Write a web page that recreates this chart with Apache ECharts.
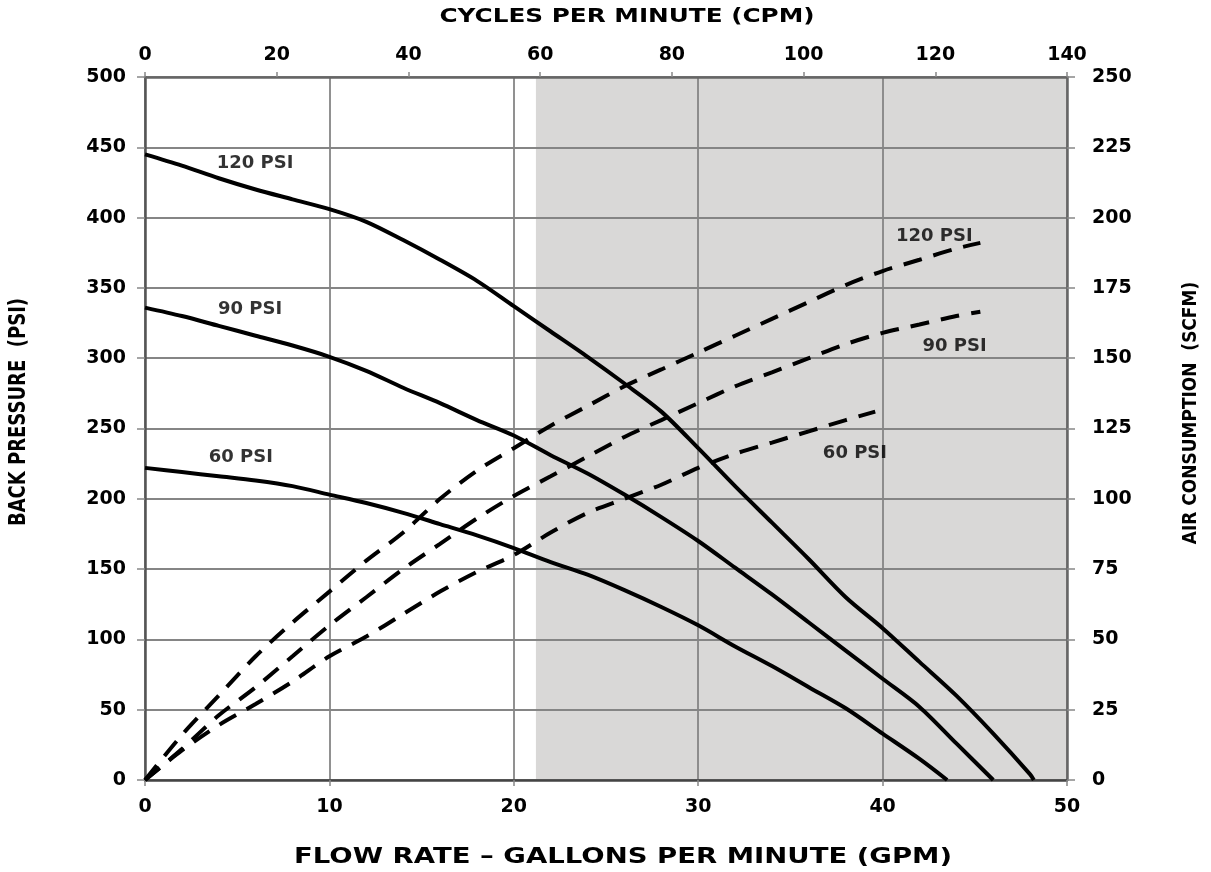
<!DOCTYPE html>
<html><head><meta charset="utf-8">
<script src="https://cdn.jsdelivr.net/npm/echarts@6/dist/echarts.min.js"></script>
<style>html,body{margin:0;padding:0;background:#fff}#c{width:1211px;height:872px}</style>
</head><body><div id="c"></div>
<script>
// Performance curves: flow rate (GPM) vs back pressure (PSI)
const gpmP120 = [0,2,4,6,8,10,12,14,16,18,20,22,24,26,28,30,32,34,36,38,40,42,44,46,48,48.2];
const psiP120 = [445,437,428,420,413,406,397,384,370,355,337,319,301,282,262,236,209,183,157,130,108,84,60,33,4,0];
const gpmP90 = [0,2,4,6,8,10,12,14,16,18,20,22,24,26,28,30,32,34,36,38,40,42,44,46];
const psiP90 = [336,330,323,316,309,301,291,279,268,256,245,231,218,203,187,170,151,132,112,92,72,52,26,0];
const gpmP60 = [0,2,4,6,8,10,12,14,16,18,20,22,24,26,28,30,32,34,36,38,40,42,43.5];
const psiP60 = [222,219,216,213,209,203,197,190,182,174,165,155,146,135,123,110,95,81,66,51,33,15,0];
// Air consumption curves: flow rate (GPM) vs SCFM
const gpmA120 = [0,2,4,6,8,10,12,14,16,18,20,22,24,26,28,30,32,34,36,38,40,42,44,45.3];
const scfmA120 = [0,16,30,44,56,67,78,88,100,110,118,126,133,140,146,152,158,164,170,176,181,185,189,191];
const gpmA90 = [0,2,4,6,8,10,12,14,16,18,20,22,24,26,28,30,32,34,36,38,40,42,44,45.3];
const scfmA90 = [0,11,23,33,44,55,65,75,84,93,101,108,115,122,128,134,140,145,150,155,159,162,165,166.5];
const gpmA60 = [0,2,4,6,8,10,12,14,16,18,20,22,24,26,28,30,32,34,36,38,39.6];
const scfmA60 = [0,10.5,19.5,27,35,44,51,59,67,74,80,88,95,100,105,111,116,120,124,128,131];
// Shaded region (GPM)
const shadeRange = [21.2, 50];
// Curve labels: [gpm, psi, text]
const curveLabels = [
  [5.97, 438.8, '120 PSI'], [5.7, 335, '90 PSI'], [5.2, 229.7, '60 PSI'],
  [42.8, 387, '120 PSI'], [43.9, 308.7, '90 PSI'], [38.5, 232.6, '60 PSI']
];
const xTitle = 'FLOW RATE – GALLONS PER MINUTE (GPM)';
const x2Title = 'CYCLES PER MINUTE (CPM)';
const yTitle = 'BACK PRESSURE  (PSI)';
const y2Title = 'AIR CONSUMPTION  (SCFM)';

const zip = (a, b) => a.map((v, i) => [v, b[i]]);
const FONT = '"DejaVu Sans", sans-serif';
const lbl = {fontFamily: FONT, fontWeight: 'bold', fontSize: 19, color: '#000'};

const chart = echarts.init(document.getElementById('c'));
const solid = {type: 'line', smooth: 0.3, showSymbol: false, symbol: 'none', lineStyle: {color: '#000', width: 4}, z: 3};
const dashed = {type: 'line', smooth: 0.3, showSymbol: false, symbol: 'none', yAxisIndex: 1, lineStyle: {color: '#000', width: 4, type: [19, 12]}, z: 3};
chart.setOption({
  animation: false,
  grid: {left: 145, right: 144, top: 77, bottom: 92},
  xAxis: [{
    type: 'value', min: 0, max: 50, interval: 10, position: 'bottom',
    axisLine: {show: true, onZero: false, lineStyle: {color: '#444', width: 2.5}},
    axisTick: {show: true, length: 6, lineStyle: {color: '#888', width: 1.5}},
    axisLabel: Object.assign({}, lbl, {margin: 18}),
    splitLine: {show: true, lineStyle: {color: '#858585', width: 1.8}}
  }, {
    type: 'value', min: 0, max: 140, interval: 20, position: 'top',
    axisLine: {show: true, onZero: false, lineStyle: {color: '#666', width: 2.5}},
    axisTick: {show: true, length: 5, lineStyle: {color: '#888', width: 1.5}},
    axisLabel: Object.assign({}, lbl, {margin: 12}),
    splitLine: {show: false}
  }],
  yAxis: [{
    type: 'value', min: 0, max: 500, interval: 50, position: 'left',
    axisLine: {show: true, onZero: false, lineStyle: {color: '#555', width: 2.5}},
    axisTick: {show: true, length: 8, lineStyle: {color: '#888', width: 1.5}},
    axisLabel: Object.assign({}, lbl, {margin: 19}),
    splitLine: {show: true, lineStyle: {color: '#858585', width: 1.8}}
  }, {
    type: 'value', min: 0, max: 250, interval: 25, position: 'right',
    axisLine: {show: true, onZero: false, lineStyle: {color: '#666', width: 2.5}},
    axisTick: {show: true, length: 8, lineStyle: {color: '#888', width: 1.5}},
    axisLabel: Object.assign({}, lbl, {margin: 25}),
    splitLine: {show: false}
  }],
  series: [
    {type: 'custom', z: -1, silent: true,
     data: [[shadeRange[0], shadeRange[1]]],
     renderItem: function (params, api) {
       const p0 = api.coord([api.value(0), 500]);
       const p1 = api.coord([api.value(1), 0]);
       return {type: 'rect', shape: {x: p0[0], y: p0[1], width: p1[0] - p0[0], height: p1[1] - p0[1]}, style: {fill: '#d9d8d7'}};
     }},
    Object.assign({name: 'P120', data: zip(gpmP120, psiP120)}, solid),
    Object.assign({name: 'P90', data: zip(gpmP90, psiP90)}, solid),
    Object.assign({name: 'P60', data: zip(gpmP60, psiP60)}, solid),
    Object.assign({name: 'A120', data: zip(gpmA120, scfmA120)}, dashed),
    Object.assign({name: 'A90', data: zip(gpmA90, scfmA90)}, dashed),
    Object.assign({name: 'A60', data: zip(gpmA60, scfmA60)}, dashed),
    {type: 'scatter', symbolSize: 0, z: 5, silent: true,
     data: curveLabels.map(d => ({value: [d[0], d[1]], label: {formatter: d[2]}})),
     label: Object.assign({show: true, position: 'inside'}, lbl, {fontSize: 18})}
  ],
  graphic: [
    {type: 'text', x: 627, y: 17, scaleX: 1.3, style: {text: x2Title, font: 'bold 19px ' + FONT, fill: '#000', align: 'center', verticalAlign: 'middle'}},
    {type: 'text', x: 623, y: 857, scaleX: 1.25, style: {text: xTitle, font: 'bold 22px ' + FONT, fill: '#000', align: 'center', verticalAlign: 'middle'}},
    {type: 'text', x: 19, y: 412, rotation: Math.PI / 2, scaleY: 1.25, style: {text: yTitle, font: 'bold 18px ' + FONT, fill: '#000', align: 'center', verticalAlign: 'middle'}},
    {type: 'text', x: 1191, y: 413, rotation: Math.PI / 2, scaleY: 1.1, style: {text: y2Title, font: 'bold 17px ' + FONT, fill: '#000', align: 'center', verticalAlign: 'middle'}}
  ]
});
</script></body></html>
